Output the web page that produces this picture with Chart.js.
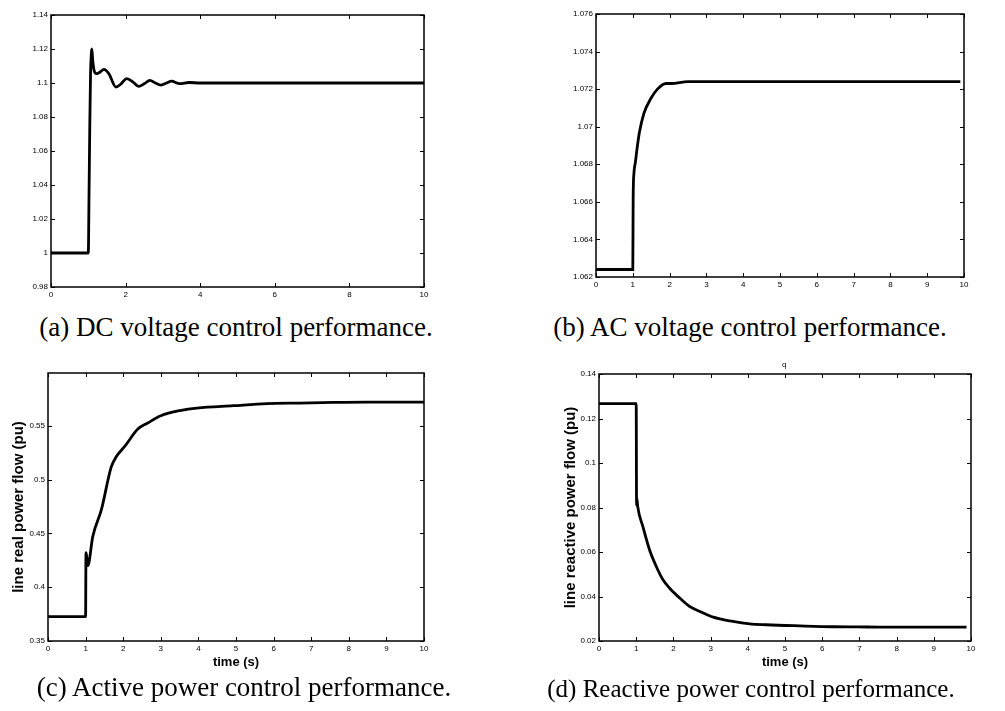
<!DOCTYPE html>
<html><head><meta charset="utf-8">
<script src="https://cdn.jsdelivr.net/npm/chart.js@4/dist/chart.umd.min.js"></script>
<style>
body{margin:0;background:#fff;width:1005px;height:711px;position:relative;overflow:hidden}
canvas{position:absolute}
.cap{position:absolute;font-family:"Liberation Serif","Times New Roman",serif;font-size:27px;line-height:27px;color:#000;white-space:nowrap;transform:translateX(-50%)}
.q{position:absolute;font-family:"Liberation Sans",Arial,sans-serif;font-size:8px;line-height:8px;color:#000}
</style></head><body>
<canvas id="ca" width="445" height="305" style="left:0;top:0"></canvas>
<canvas id="cb" width="450" height="300" style="left:540px;top:0"></canvas>
<canvas id="cc" width="445" height="330" style="left:0;top:350px"></canvas>
<canvas id="cd" width="460" height="330" style="left:540px;top:350px"></canvas>
<div class="cap" style="left:236px;top:314px">(a) DC voltage control performance.</div>
<div class="cap" style="left:750px;top:314px">(b) AC voltage control performance.</div>
<div class="cap" style="left:244px;top:674px">(c) Active power control performance.</div>
<div class="cap" style="left:751px;top:676px;font-size:25px;line-height:25px">(d) Reactive power control performance.</div>
<div class="q" style="left:782px;top:361px">q</div>
<script>
// ---- data ----
const tA = [0, 1.0, 1.02, 1.04, 1.06, 1.08, 1.095, 1.12, 1.16, 1.22, 1.32, 1.42, 1.55, 1.74, 1.88, 2.03, 2.2, 2.35, 2.5, 2.65, 2.8, 2.95, 3.1, 3.23, 3.45, 3.7, 4.0, 5, 6, 7, 8, 9, 10];
const vA = [1.0, 1.0, 1.035, 1.075, 1.105, 1.117, 1.12, 1.113, 1.107, 1.1055, 1.1065, 1.108, 1.1055, 1.0976, 1.0995, 1.1026, 1.1005, 1.098, 1.0995, 1.1016, 1.1, 1.0988, 1.1, 1.1011, 1.0996, 1.1003, 1.1, 1.1, 1.1, 1.1, 1.1, 1.1, 1.1];

const tB = [0, 1.0, 1.01, 1.03, 1.07, 1.12, 1.18, 1.3, 1.49, 1.67, 1.9, 2.04, 2.5, 3, 4, 5, 6, 7, 8, 9, 9.9];
const vB = [1.0624, 1.0624, 1.0662, 1.0675, 1.0681, 1.0689, 1.0697, 1.0707, 1.0715, 1.0720, 1.0723, 1.0723, 1.0724, 1.0724, 1.0724, 1.0724, 1.0724, 1.0724, 1.0724, 1.0724, 1.0724];

const tC = [0, 1.0, 1.01, 1.03, 1.06, 1.19, 1.42, 1.68, 1.81, 2.04, 2.39, 2.65, 3.0, 3.54, 3.96, 4.93, 5.82, 6.7, 7.59, 8.48, 10];
const vC = [0.3726, 0.3726, 0.432, 0.428, 0.42, 0.447, 0.472, 0.5115, 0.5209, 0.5308, 0.5469, 0.5525, 0.5593, 0.5643, 0.5664, 0.5686, 0.5705, 0.5711, 0.5717, 0.572, 0.572];

const tD = [0, 1.0, 1.01, 1.02, 1.04, 1.18, 1.36, 1.54, 1.72, 1.9, 2.17, 2.44, 2.71, 3.07, 3.6, 4.05, 4.5, 5.4, 6.3, 7.2, 8.5, 9.88];
const vD = [0.1267, 0.1267, 0.081, 0.084, 0.0805, 0.0714, 0.0609, 0.0535, 0.0475, 0.0437, 0.0393, 0.0355, 0.0333, 0.0307, 0.0288, 0.0277, 0.0273, 0.0268, 0.0264, 0.0263, 0.0262, 0.0262];

const xTicksA = [0, 2, 4, 6, 8, 10];
const xTicks1 = [0, 1, 2, 3, 4, 5, 6, 7, 8, 9, 10];
const yTicksA = [0.98, 1, 1.02, 1.04, 1.06, 1.08, 1.1, 1.12, 1.14];
const yTicksB = [1.062, 1.064, 1.066, 1.068, 1.07, 1.072, 1.074, 1.076];
const yTicksC = [0.35, 0.4, 0.45, 0.5, 0.55];
const yTicksD = [0.02, 0.04, 0.06, 0.08, 0.1, 0.12, 0.14];

const yTitleC = 'line real power flow (pu)';
const yTitleD = 'line reactive power flow (pu)';
const xTitle = 'time (s)';

// ---- drawing ----
const boxTicks = {
  id: 'boxTicks',
  afterDatasetsDraw(chart) {
    const {ctx, chartArea: a, scales: {x, y}} = chart;
    ctx.save();
    ctx.strokeStyle = '#000';
    ctx.lineWidth = 1;
    ctx.beginPath();
    x.ticks.forEach(t => {
      const px = Math.round(x.getPixelForValue(t.value)) + 0.5;
      ctx.moveTo(px, a.bottom); ctx.lineTo(px, a.bottom - 4);
      ctx.moveTo(px, a.top); ctx.lineTo(px, a.top + 4);
    });
    y.ticks.forEach(t => {
      const py = Math.round(y.getPixelForValue(t.value)) + 0.5;
      ctx.moveTo(a.left, py); ctx.lineTo(a.left + 4, py);
      ctx.moveTo(a.right, py); ctx.lineTo(a.right - 4, py);
    });
    ctx.stroke();
    ctx.lineWidth = 1.5;
    ctx.strokeRect(a.left, a.top, a.right - a.left, a.bottom - a.top);
    ctx.restore();
  }
};

const fmt = v => String(+Number(v).toFixed(6));

function makeChart(id, t, v, cfg) {
  const data = t.map((tt, i) => ({x: tt, y: v[i]}));
  const tickFont = {family: '"Liberation Sans", Arial, sans-serif', size: 8};
  return new Chart(document.getElementById(id), {
    type: 'line',
    data: {datasets: [{data, borderColor: '#000', borderWidth: 2.8, pointRadius: 0, fill: false, cubicInterpolationMode: 'monotone'}]},
    options: {
      responsive: false, animation: false, devicePixelRatio: 1,
      layout: {padding: {top: cfg.pt, right: cfg.pr, left: 0, bottom: 0}},
      plugins: {legend: {display: false}, tooltip: {enabled: false}},
      scales: {
        x: {
          type: 'linear', min: 0, max: 10,
          afterBuildTicks: s => { s.ticks = cfg.xt.map(val => ({value: val})); },
          afterFit: s => { s.height = cfg.xh; },
          grid: {display: false, drawTicks: false},
          border: {display: false},
          ticks: {color: '#000', font: tickFont, padding: 3, maxRotation: 0, autoSkip: false, callback: fmt},
          title: cfg.xTitle ? {display: true, text: cfg.xTitle, color: '#000', font: {family: '"Liberation Sans", Arial, sans-serif', size: 13, weight: 'bold'}, padding: {top: 0, bottom: cfg.xtp}} : {display: false}
        },
        y: {
          type: 'linear', min: cfg.ymin, max: cfg.ymax,
          afterBuildTicks: s => { s.ticks = cfg.yt.map(val => ({value: val})); },
          afterFit: s => { s.width = cfg.yw; },
          grid: {display: false, drawTicks: false},
          border: {display: false},
          ticks: {color: '#000', font: tickFont, padding: 3, autoSkip: false, callback: fmt},
          title: cfg.yTitle ? {display: true, text: cfg.yTitle, color: '#000', font: {family: '"Liberation Sans", Arial, sans-serif', size: 15, weight: 'bold'}, padding: {top: cfg.ytp, bottom: 0}} : {display: false}
        }
      }
    },
    plugins: [boxTicks]
  });
}

makeChart('ca', tA, vA, {pt: 15, pr: 21, xh: 18, yw: 51, xt: xTicksA, yt: yTicksA, ymin: 0.98, ymax: 1.14});
makeChart('cb', tB, vB, {pt: 14, pr: 26, xh: 23, yw: 56, xt: xTicks1, yt: yTicksB, ymin: 1.062, ymax: 1.076});
makeChart('cc', tC, vC, {pt: 23, pr: 21, xh: 39, yw: 48, xt: xTicks1, yt: yTicksC, ymin: 0.35, ymax: 0.599, xTitle: xTitle, xtp: 10, yTitle: yTitleC, ytp: 10});
makeChart('cd', tD, vD, {pt: 24, pr: 29, xh: 39, yw: 59, xt: xTicks1, yt: yTicksD, ymin: 0.02, ymax: 0.14, xTitle: xTitle, xtp: 10, yTitle: yTitleD, ytp: 22});
</script>
</body></html>
